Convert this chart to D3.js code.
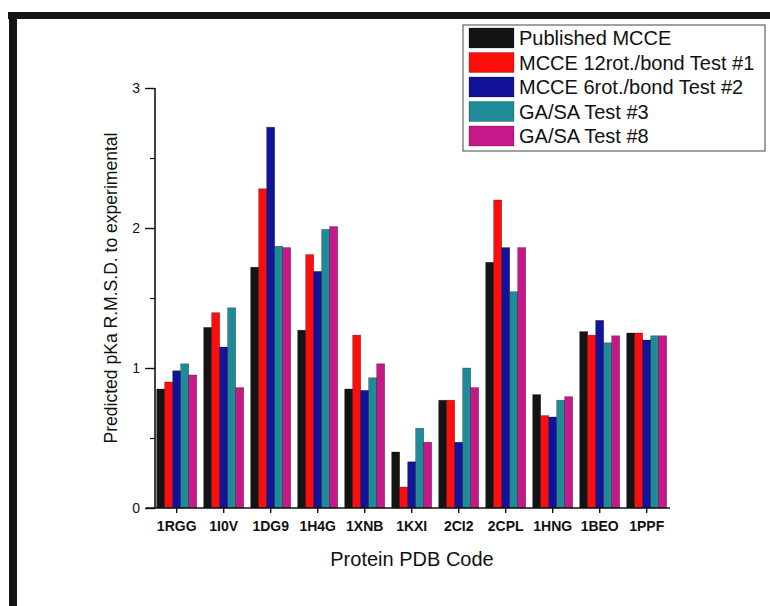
<!DOCTYPE html>
<html>
<head>
<meta charset="utf-8">
<script src="https://cdn.jsdelivr.net/npm/d3@7"></script>
<style>
  html, body { margin: 0; padding: 0; background: #fff; }
  svg { display: block; }
  text { font-family: "Liberation Sans", Arial, sans-serif; fill: #111; }
</style>
</head>
<body>
<svg id="chart" width="770" height="606"></svg>
<script>
// Protein PDB codes along the x axis
const proteins = ["1RGG", "1I0V", "1DG9", "1H4G", "1XNB", "1KXI", "2CI2", "2CPL", "1HNG", "1BEO", "1PPF"];

// Series names (legend order)
const seriesNames = [
  "Published MCCE",
  "MCCE 12rot./bond Test #1",
  "MCCE 6rot./bond Test #2",
  "GA/SA Test #3",
  "GA/SA Test #8"
];
const seriesColors = ["#141414", "#ff0d0d", "#12129a", "#1f8b98", "#c71889"];

// Predicted pKa RMSD values per series, one value per protein
const publishedMCCE = [0.85, 1.29, 1.72, 1.27, 0.85, 0.40, 0.77, 1.755, 0.81, 1.26, 1.25];
const mcce12rot     = [0.90, 1.395, 2.28, 1.81, 1.235, 0.15, 0.77, 2.20, 0.66, 1.235, 1.25];
const mcce6rot      = [0.98, 1.15, 2.72, 1.69, 0.84, 0.33, 0.47, 1.86, 0.65, 1.34, 1.20];
const gasaTest3     = [1.03, 1.43, 1.87, 1.99, 0.93, 0.57, 1.00, 1.545, 0.77, 1.18, 1.23];
const gasaTest8     = [0.95, 0.86, 1.86, 2.01, 1.03, 0.47, 0.86, 1.86, 0.795, 1.23, 1.23];
const seriesValues = [publishedMCCE, mcce12rot, mcce6rot, gasaTest3, gasaTest8];

// y axis ticks
const yMajorTicks = [0, 1, 2, 3];
const yMinorTicks = [0.5, 1.5, 2.5];

const svg = d3.select("#chart");

// Outer frame (top and left heavy rules)
svg.append("rect").attr("x", 8).attr("y", 12).attr("width", 762).attr("height", 7).attr("fill", "#151515");
svg.append("rect").attr("x", 9).attr("y", 12).attr("width", 8).attr("height", 594).attr("fill", "#151515");

// Scales
const x0 = d3.scaleBand().domain(proteins).range([153.2, 670.2]).padding(0);
const groupWidth = 40;
const x1 = d3.scaleBand().domain(d3.range(seriesNames.length)).range([0, groupWidth]).padding(0);
const y = d3.scaleLinear().domain([0, 3]).range([508, 88]);

// Bars
const groups = svg.append("g").selectAll("g")
  .data(proteins)
  .join("g")
  .attr("transform", p => `translate(${x0(p) + x0.bandwidth() / 2 - groupWidth / 2},0)`);

groups.selectAll("rect")
  .data((p, pi) => seriesValues.map((vals, si) => ({ si, v: vals[pi] })))
  .join("rect")
  .attr("x", d => x1(d.si))
  .attr("width", x1.bandwidth())
  .attr("y", d => y(d.v))
  .attr("height", d => y(0) - y(d.v))
  .attr("fill", d => seriesColors[d.si])
  .attr("stroke", "rgba(0,0,0,0.45)")
  .attr("stroke-width", 0.6);

// y axis
const axisLeft = d3.axisLeft(y).tickValues(yMajorTicks).tickFormat(d3.format("d")).tickSize(10).tickPadding(5);
const yAxisG = svg.append("g").attr("transform", "translate(155,0)").call(axisLeft);
yAxisG.attr("font-size", 14);
yAxisG.select(".domain").attr("stroke", "#111").attr("stroke-width", 1.6).attr("d", `M0,${y(3)}V${y(0)}`);
yAxisG.selectAll(".tick line").attr("stroke", "#111").attr("stroke-width", 1.4);
yAxisG.selectAll(".tick text").style("font-size", "14px").style("font-family", "Liberation Sans, Arial, sans-serif").attr("fill", "#111");
const minorAxis = d3.axisLeft(y).tickValues(yMinorTicks).tickFormat("").tickSize(5);
const yMinorG = svg.append("g").attr("transform", "translate(155,0)").call(minorAxis);
yMinorG.select(".domain").remove();
yMinorG.selectAll(".tick line").attr("stroke", "#111").attr("stroke-width", 1.2);

// x axis
const axisBottom = d3.axisBottom(x0).tickSize(5).tickPadding(8);
const xAxisG = svg.append("g").attr("transform", `translate(0,${y(0)})`).call(axisBottom);
xAxisG.select(".domain").attr("stroke", "#111").attr("stroke-width", 1.6).attr("d", "M146,0H670");
xAxisG.selectAll(".tick line").attr("stroke", "#111").attr("stroke-width", 1.4);
xAxisG.selectAll(".tick text")
  .style("font-size", "14px")
  .attr("font-weight", "bold")
  .style("font-family", "Liberation Sans, Arial, sans-serif")
  .attr("fill", "#111");

// Axis titles
svg.append("text")
  .attr("transform", "translate(117,288) rotate(-90)")
  .attr("text-anchor", "middle")
  .attr("font-size", 19)
  .attr("textLength", 311)
  .attr("lengthAdjust", "spacingAndGlyphs")
  .text("Predicted pKa R.M.S.D. to experimental");

svg.append("text")
  .attr("x", 412)
  .attr("y", 566)
  .attr("text-anchor", "middle")
  .attr("font-size", 20)
  .text("Protein PDB Code");

// Legend
const legend = svg.append("g").attr("transform", "translate(463,25)");
legend.append("rect")
  .attr("x", 0).attr("y", 0).attr("width", 302).attr("height", 126)
  .attr("fill", "#fff").attr("stroke", "#444").attr("stroke-width", 1);
const rowY = d3.scaleLinear().domain([0, 4]).range([13, 111]);
const rows = legend.selectAll("g.row")
  .data(seriesNames)
  .join("g")
  .attr("class", "row")
  .attr("transform", (d, i) => `translate(0,${rowY(i)})`);
rows.append("rect")
  .attr("x", 6).attr("y", -10).attr("width", 45).attr("height", 20)
  .attr("fill", (d, i) => seriesColors[i])
  .attr("stroke", "rgba(0,0,0,0.4)").attr("stroke-width", 0.6);
rows.append("text")
  .attr("x", 56).attr("y", 7)
  .attr("font-size", 20)
  .text(d => d);
</script>
</body>
</html>
